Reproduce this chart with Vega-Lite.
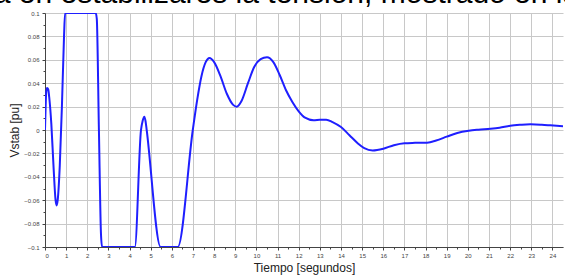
{
  "$schema": "https://vega.github.io/schema/vega-lite/v6.json",
  "width": 518,
  "height": 234,
  "autosize": {"type": "none"},
  "padding": {"left": 45, "top": 13, "right": 2, "bottom": 31},
  "background": "white",
  "title": {
    "text": "a en estabilizares la tensión, mostrado en la",
    "font": "Liberation Sans",
    "fontSize": 30,
    "fontWeight": "normal",
    "color": "#000000",
    "anchor": "start",
    "baseline": "alphabetic",
    "frame": "bounds",
    "offset": 0,
    "dx": -15,
    "dy": 23
  },
  "data": {
    "values": [
      {"t": 0, "v": 0},
      {"t": 0.03, "v": 0.02},
      {"t": 0.06, "v": 0.033},
      {"t": 0.1, "v": 0.036},
      {"t": 0.15, "v": 0.035},
      {"t": 0.2, "v": 0.028},
      {"t": 0.3, "v": 0.005},
      {"t": 0.4, "v": -0.03},
      {"t": 0.5, "v": -0.06},
      {"t": 0.55, "v": -0.0645},
      {"t": 0.6, "v": -0.06},
      {"t": 0.7, "v": -0.03},
      {"t": 0.8, "v": 0.02},
      {"t": 0.9, "v": 0.08},
      {"t": 0.95, "v": 0.1},
      {"t": 2.4, "v": 0.1},
      {"t": 2.45, "v": 0.095},
      {"t": 2.55, "v": 0.0},
      {"t": 2.65, "v": -0.09},
      {"t": 2.7, "v": -0.1},
      {"t": 4.25, "v": -0.1},
      {"t": 4.54, "v": 0},
      {"t": 4.62, "v": 0.008},
      {"t": 4.7, "v": 0.0114},
      {"t": 4.76, "v": 0.007},
      {"t": 4.81, "v": 0},
      {"t": 5.47, "v": -0.1},
      {"t": 6.28, "v": -0.1},
      {"t": 6.99, "v": 0},
      {"t": 7.2, "v": 0.026},
      {"t": 7.4, "v": 0.046},
      {"t": 7.6, "v": 0.058},
      {"t": 7.78, "v": 0.0615},
      {"t": 8.0, "v": 0.058},
      {"t": 8.3, "v": 0.046},
      {"t": 8.6, "v": 0.031},
      {"t": 8.9, "v": 0.0215},
      {"t": 9.07, "v": 0.0199},
      {"t": 9.3, "v": 0.025},
      {"t": 9.6, "v": 0.04},
      {"t": 9.9, "v": 0.054},
      {"t": 10.2, "v": 0.0605},
      {"t": 10.5, "v": 0.0621},
      {"t": 10.8, "v": 0.058},
      {"t": 11.1, "v": 0.047},
      {"t": 11.4, "v": 0.034},
      {"t": 11.7, "v": 0.024},
      {"t": 12.0, "v": 0.016},
      {"t": 12.3, "v": 0.0105},
      {"t": 12.7, "v": 0.0083},
      {"t": 13.0, "v": 0.0087},
      {"t": 13.3, "v": 0.0088},
      {"t": 13.6, "v": 0.0068},
      {"t": 14.0, "v": 0.0025},
      {"t": 14.4, "v": -0.0045},
      {"t": 14.8, "v": -0.0115},
      {"t": 15.1, "v": -0.0155},
      {"t": 15.5, "v": -0.0175},
      {"t": 16.0, "v": -0.016},
      {"t": 16.5, "v": -0.013},
      {"t": 17.0, "v": -0.0113},
      {"t": 17.5, "v": -0.011},
      {"t": 18.07, "v": -0.0108},
      {"t": 18.5, "v": -0.009},
      {"t": 19.0, "v": -0.0057},
      {"t": 19.5, "v": -0.0025},
      {"t": 20.04, "v": -0.0006},
      {"t": 20.5, "v": 0.0003},
      {"t": 21.07, "v": 0.0011},
      {"t": 21.5, "v": 0.002},
      {"t": 22.0, "v": 0.0037},
      {"t": 22.5, "v": 0.0045},
      {"t": 22.96, "v": 0.0049},
      {"t": 23.5, "v": 0.0045},
      {"t": 23.9, "v": 0.004},
      {"t": 24.5, "v": 0.0032}
    ]
  },
  "mark": {"type": "line", "color": "#1f1fff", "strokeWidth": 2, "interpolate": "monotone", "clip": true},
  "encoding": {
    "x": {
      "field": "t",
      "type": "quantitative",
      "scale": {"domain": [0, 24.5], "nice": false, "zero": false},
      "axis": {
        "title": "Tiempo [segundos]",
        "values": [0,0.5,1,1.5,2,2.5,3,3.5,4,4.5,5,5.5,6,6.5,7,7.5,8,8.5,9,9.5,10,10.5,11,11.5,12,12.5,13,13.5,14,14.5,15,15.5,16,16.5,17,17.5,18,18.5,19,19.5,20,20.5,21,21.5,22,22.5,23,23.5,24],
        "labelExpr": "datum.value % 1 === 0 ? format(datum.value, 'd') : ''",
        "grid": true,
        "gridColor": "#c8c8c8",
        "gridOpacity": {"condition": {"test": "datum.value % 1 === 0", "value": 1}, "value": 0},
        "tickSize": {"condition": {"test": "datum.value % 1 === 0", "value": 3}, "value": 2},
        "tickColor": "#444444",
        "domainColor": "#444444",
        "labelFont": "Liberation Sans",
        "labelFontSize": 6,
        "labelColor": "#444444",
        "labelPadding": 2,
        "titleFont": "Liberation Sans",
        "titleFontSize": 12,
        "titleFontWeight": "normal",
        "titleColor": "#222222",
        "titlePadding": 4
      }
    },
    "y": {
      "field": "v",
      "type": "quantitative",
      "scale": {"domain": [-0.1, 0.1], "nice": false, "zero": false},
      "axis": {
        "title": "Vstab [pu]",
        "values": [-0.1,-0.09,-0.08,-0.07,-0.06,-0.05,-0.04,-0.03,-0.02,-0.01,0,0.01,0.02,0.03,0.04,0.05,0.06,0.07,0.08,0.09,0.1],
        "labelExpr": "abs(round(datum.value*100)) % 2 === 0 ? format(datum.value, '') : ''",
        "grid": true,
        "gridColor": "#c8c8c8",
        "gridOpacity": {"condition": {"test": "abs(round(datum.value*100)) % 2 === 0", "value": 1}, "value": 0},
        "tickSize": {"condition": {"test": "abs(round(datum.value*100)) % 2 === 0", "value": 3}, "value": 2},
        "tickColor": "#444444",
        "domainColor": "#444444",
        "labelFont": "Liberation Sans",
        "labelFontSize": 6,
        "labelColor": "#444444",
        "labelPadding": 3,
        "titleFont": "Liberation Sans",
        "titleFontSize": 12,
        "titleFontWeight": "normal",
        "titleColor": "#222222",
        "titlePadding": 2
      }
    }
  },
  "config": {"view": {"stroke": null}}
}
